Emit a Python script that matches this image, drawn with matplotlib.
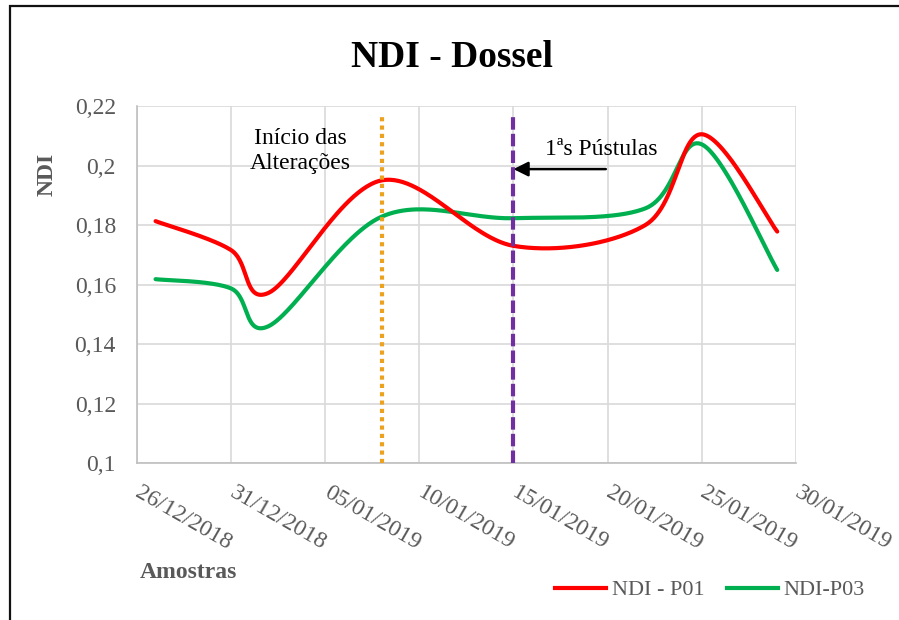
import numpy as np
import matplotlib
matplotlib.use("Agg")
import matplotlib.pyplot as plt
import matplotlib.dates as mdates
import matplotlib.transforms as mtransforms
from matplotlib.patches import Rectangle
from matplotlib.lines import Line2D
from matplotlib.ticker import FuncFormatter
from datetime import datetime

plt.rcParams['font.family'] = ['Liberation Serif', 'DejaVu Serif']

# NDI por data de amostragem
amostras = ['27/12/2018', '31/12/2018', '02/01/2019', '08/01/2019',
            '15/01/2019', '22/01/2019', '25/01/2019', '29/01/2019']
ndi_p01 = [0.1813, 0.1716, 0.1572, 0.1950, 0.1730, 0.1800, 0.2105, 0.1778]
ndi_p03 = [0.1618, 0.1587, 0.1460, 0.1828, 0.1823, 0.1856, 0.2071, 0.1649]

inicio_alteracoes = '08/01/2019'
primeiras_pustulas = '15/01/2019'

x_ini, x_fim = '26/12/2018', '30/01/2019'
y_ticks = [0.10, 0.12, 0.14, 0.16, 0.18, 0.20, 0.22]

GRAY = '#595959'
GRID = '#d9d9d9'


def to_num(s):
    return mdates.date2num(datetime.strptime(s, '%d/%m/%Y'))


def suaviza(xs, ys, n=60):
    # curva suavizada tipo Excel (Catmull-Rom convertido em Bezier)
    p = np.column_stack([xs, ys])
    p = np.vstack([p[0], p, p[-1]])
    out = []
    for i in range(1, len(p) - 2):
        p0, p1 = p[i], p[i + 1]
        c1 = p0 + (p[i + 1] - p[i - 1]) / 6
        c2 = p1 - (p[i + 2] - p[i]) / 6
        t = np.linspace(0, 1, n)[:, None]
        seg = ((1 - t) ** 3 * p0 + 3 * (1 - t) ** 2 * t * c1
               + 3 * (1 - t) * t ** 2 * c2 + t ** 3 * p1)
        out.append(seg if i == 1 else seg[1:])
    out = np.vstack(out)
    return out[:, 0], out[:, 1]


xd = [to_num(d) for d in amostras]

fig = plt.figure(figsize=(8.99, 6.2), dpi=100)
ax = fig.add_axes([0.1521, 0.2532, 0.7334, 0.5758])

x1, y1 = suaviza(xd, ndi_p01)
x3, y3 = suaviza(xd, ndi_p03)
ax.plot(x1, y1, color='#ff0000', lw=3, solid_capstyle='round', zorder=4)
ax.plot(x3, y3, color='#00b050', lw=3, solid_capstyle='round', zorder=3)

# marcos verticais
topo = 0.2176
ax.plot([to_num(inicio_alteracoes)] * 2, [0.10, topo], color='#eda21f', lw=3,
        ls=(0, (1, 1)), dash_capstyle='butt', zorder=5)
ax.plot([to_num(primeiras_pustulas)] * 2, [0.10, topo], color='#7030a0', lw=3,
        ls=(0, (3, 1)), dash_capstyle='butt', zorder=5)

ax.text(0.248, 0.874, 'Início das\nAlterações', transform=ax.transAxes,
        ha='center', va='center', fontsize=17, linespacing=1.2, zorder=6)
ax.text(0.619, 0.877, '1ªs Pústulas', transform=ax.transAxes,
        ha='left', va='center', fontsize=17, zorder=6)
ax.annotate('', xy=(to_num(primeiras_pustulas), 0.1988),
            xytext=(to_num(primeiras_pustulas) + 4.9, 0.1988),
            arrowprops=dict(arrowstyle='-|>', color='black', lw=1.8,
                            mutation_scale=22, shrinkA=0, shrinkB=0),
            zorder=6)

ax.set_xlim(to_num(x_ini), to_num(x_fim))
ax.set_ylim(0.10, 0.22)
ax.set_xticks([to_num(x_ini) + 5 * k for k in range(8)])
ax.xaxis.set_major_formatter(mdates.DateFormatter('%d/%m/%Y'))
ax.set_yticks(y_ticks)
ax.yaxis.set_major_formatter(FuncFormatter(lambda v, _: ('%g' % round(v, 2)).replace('.', ',')))

ax.grid(True, color=GRID, lw=1.2)
ax.set_axisbelow(True)
for side in ['top', 'right']:
    ax.spines[side].set_visible(False)
for side in ['left', 'bottom']:
    ax.spines[side].set_color('#bfbfbf')
    ax.spines[side].set_linewidth(1.2)

ax.tick_params(axis='both', length=0, labelsize=17, labelcolor=GRAY)
ax.tick_params(axis='y', pad=15)
ax.tick_params(axis='x', pad=14)
shift = mtransforms.ScaledTranslation(4 / 72, 0, fig.dpi_scale_trans)
for lab in ax.get_xticklabels():
    lab.set_rotation(-30)
    lab.set_ha('left')
    lab.set_va('top')
    lab.set_rotation_mode('anchor')
    lab.set_transform(lab.get_transform() + shift)

fig.text(0.503, 0.908, 'NDI - Dossel', ha='center', va='center',
         fontsize=27, fontweight='bold')
fig.text(0.052, 0.718, 'NDI', rotation=90, ha='center', va='center',
         fontsize=17, fontweight='bold', color=GRAY)
fig.text(0.155, 0.076, 'Amostras', ha='left', va='center',
         fontsize=17, fontweight='bold', color=GRAY)

handles = [Line2D([], [], color='#ff0000', lw=3),
           Line2D([], [], color='#00b050', lw=3)]
leg = fig.legend(handles, ['NDI - P01', 'NDI-P03'], loc='center left',
                 bbox_to_anchor=(555 / 899, 1 - 590 / 620), ncol=2,
                 frameon=False, fontsize=16, handlelength=2.3,
                 handletextpad=0.25, columnspacing=1.0, borderpad=0,
                 borderaxespad=0)
for t in leg.get_texts():
    t.set_color(GRAY)

# moldura do gráfico
fig.add_artist(Rectangle((10 / 899, -0.05), 1.0, 1 - 6 / 620 + 0.05,
                         transform=fig.transFigure, fill=False,
                         lw=1.6, edgecolor='#111111', clip_on=False))

fig.savefig('out.png', dpi=100)
